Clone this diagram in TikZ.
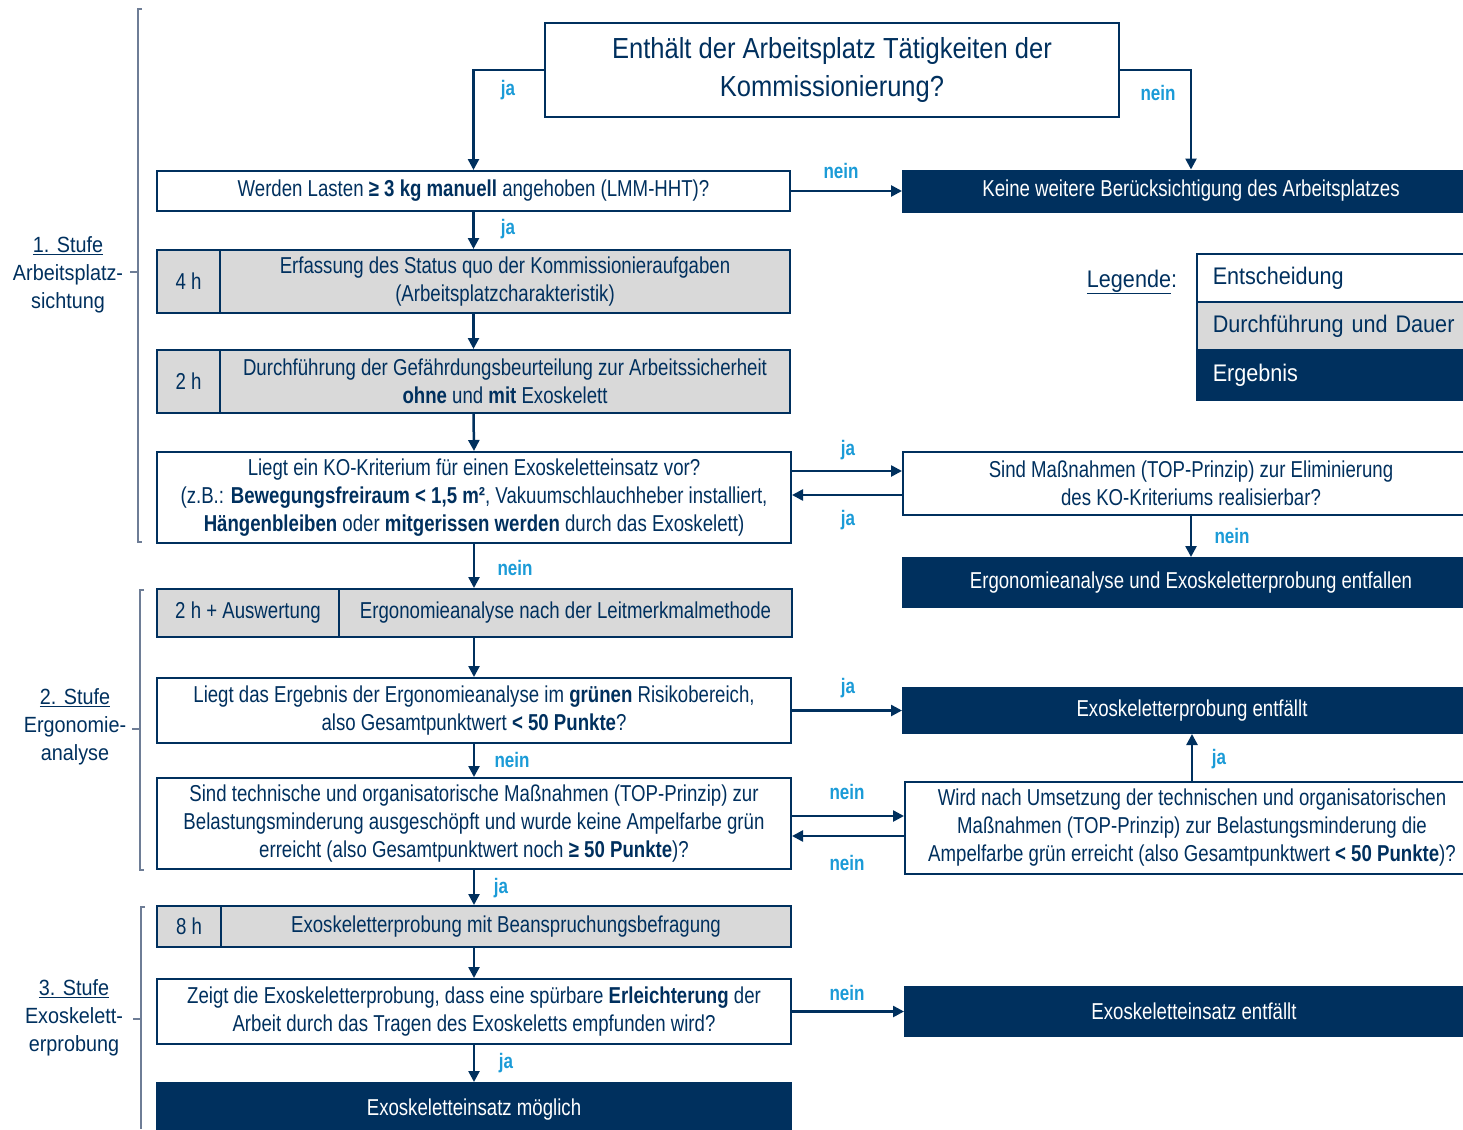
\documentclass[tikz,border=0pt]{standalone}
\usepackage{fontspec}
\setmainfont{Liberation Sans}[FakeStretch=0.9]
\newfontfamily\condf{Liberation Sans}[FakeStretch=0.81]
\newfontfamily\titlef{Liberation Sans}[FakeStretch=0.88]
\usetikzlibrary{arrows.meta}
\definecolor{navy}{RGB}{0,48,94}
\definecolor{lblue}{RGB}{27,155,215}
\definecolor{gfill}{RGB}{217,217,217}
\definecolor{brk}{RGB}{110,125,150}
\tikzset{
 base/.style={draw=navy, line width=2pt, text=navy, inner sep=0pt, align=center, font=\condf\fontsize{23}{28}\selectfont},
 dec/.style={base, fill=white},
 proc/.style={base, fill=gfill},
 res/.style={base, fill=navy, text=white},
 lab/.style={text=lblue, font=\condf\bfseries\fontsize{21}{24}\selectfont, inner sep=0pt},
 arr/.style={draw=navy, line width=2.5pt, -{Triangle[length=11pt,width=11pt]}},
 stage/.style={text=navy, align=center, inner sep=0pt, font=\fontsize{22}{28}\selectfont},
 legbox/.style={draw=navy, line width=1.5pt, anchor=west, minimum width=280, minimum height=48, text width=248, inner xsep=16, inner ysep=0pt, align=left, font=\fontsize{24}{28}\selectfont},
 brkline/.style={draw=brk, line width=1.2pt},
}
\begin{document}
\begin{tikzpicture}[x=1pt,y=-1pt]
\useasboundingbox (0,0) rectangle (1463,1129);
% stage brackets
\draw[brkline] (142,9) -- (138,9) -- (138,542) -- (142,542) (138,272) -- (130,272);
\draw[brkline] (144,590) -- (140,590) -- (140,870) -- (144,870) (140,729) -- (132,729);
\draw[brkline] (145,907) -- (141,907) -- (141,1129) (141,1019) -- (133,1019);
\node[stage] (s1) at (68,275) {\underline{1. Stufe}\\Arbeitsplatz-\\sichtung};
\node[stage] (s2) at (75,727) {\underline{2. Stufe}\\Ergonomie-\\analyse};
\node[stage] (s3) at (74,1018) {\underline{3. Stufe}\\Exoskelett-\\erprobung};
% legend
\node[font=\fontsize{24}{28}\selectfont, text=navy, inner sep=0pt] (leg) at (1132,282) {\underline{Legende}:};
\node[legbox, fill=white, text=navy] (l1) at (1196,278) {Entscheidung};
\node[legbox, fill=gfill, text=navy] (l2) at (1196,326) {Durchführung und Dauer};
\node[legbox, fill=navy, text=white, minimum height=50] (l3) at (1196,375) {Ergebnis};
% nodes
\node[dec, font=\titlef\fontsize{29}{38}\selectfont, minimum width=574, minimum height=94] (t) at (832,70) {Enthält der Arbeitsplatz Tätigkeiten der\\Kommissionierung?};
\node[dec, minimum width=633, minimum height=40] (q1) at (473.5,191) {Werden Lasten \textbf{≥ 3 kg manuell} angehoben (LMM-HHT)?};
\node[res, minimum width=576, minimum height=41] (r1) at (1191,191) {Keine weitere Berücksichtigung des Arbeitsplatzes};
\node[proc, minimum width=63, minimum height=63] (p1a) at (188.5,281.5) {4 h};
\node[proc, minimum width=570, minimum height=63] (p1b) at (505,281.5) {Erfassung des Status quo der Kommissionieraufgaben\\(Arbeitsplatzcharakteristik)};
\node[proc, minimum width=63, minimum height=63] (p2a) at (188.5,381.5) {2 h};
\node[proc, minimum width=570, minimum height=63] (p2b) at (505,381.5) {Durchführung der Gefährdungsbeurteilung zur Arbeitssicherheit\\\textbf{ohne} und \textbf{mit} Exoskelett};
\node[dec, minimum width=634, minimum height=91] (q2) at (474,497.5) {Liegt ein KO-Kriterium für einen Exoskeletteinsatz vor?\\(z.B.: \textbf{Bewegungsfreiraum < 1,5 m²}, Vakuumschlauchheber installiert,\\\textbf{Hängenbleiben} oder \textbf{mitgerissen werden} durch das Exoskelett)};
\node[dec, minimum width=576, minimum height=63] (q3) at (1191,483.5) {Sind Maßnahmen (TOP-Prinzip) zur Eliminierung\\des KO-Kriteriums realisierbar?};
\node[res, minimum width=576, minimum height=49] (r2) at (1191,582.5) {Ergonomieanalyse und Exoskeletterprobung entfallen};
\node[proc, minimum width=182, minimum height=48] (p3a) at (248,613) {2 h + Auswertung};
\node[proc, minimum width=453, minimum height=48] (p3b) at (565.5,613) {Ergonomieanalyse nach der Leitmerkmalmethode};
\node[dec, minimum width=634, minimum height=65] (q4) at (474,710.5) {Liegt das Ergebnis der Ergonomieanalyse im \textbf{grünen} Risikobereich,\\also Gesamtpunktwert \textbf{< 50 Punkte}?};
\node[res, minimum width=578, minimum height=45] (r3) at (1192,710.5) {Exoskeletterprobung entfällt};
\node[dec, minimum width=634, minimum height=91] (q5) at (474,823.5) {Sind technische und organisatorische Maßnahmen (TOP-Prinzip) zur\\Belastungsminderung ausgeschöpft und wurde keine Ampelfarbe grün\\erreicht (also Gesamtpunktwert noch \textbf{≥ 50 Punkte})?};
\node[dec, minimum width=574, minimum height=92] (q6) at (1192,828) {Wird nach Umsetzung der technischen und organisatorischen\\Maßnahmen (TOP-Prinzip) zur Belastungsminderung die\\Ampelfarbe grün erreicht (also Gesamtpunktwert \textbf{< 50 Punkte})?};
\node[proc, minimum width=64, minimum height=41] (p4a) at (189,926.5) {8 h};
\node[proc, minimum width=570, minimum height=41] (p4b) at (506,926.5) {Exoskeletterprobung mit Beanspruchungsbefragung};
\node[dec, minimum width=634, minimum height=65] (q7) at (474,1011.5) {Zeigt die Exoskeletterprobung, dass eine spürbare \textbf{Erleichterung} der\\Arbeit durch das Tragen des Exoskeletts empfunden wird?};
\node[res, minimum width=578, minimum height=49] (r4) at (1194,1011.5) {Exoskeletteinsatz entfällt};
\node[res, minimum width=634, minimum height=54] (r5) at (474,1110) {Exoskeletteinsatz möglich};
% connectors
\draw[arr] (t.west) -| (q1.north);
\draw[arr] (t.east) -| (r1.north);
\draw[arr] (q1.east) -- (r1.west);
\draw[arr] (q1.south) -- (q1.south |- p1b.north);
\draw[arr] (q1.south |- p1b.south) -- (q1.south |- p2b.north);
\draw[arr] (q1.south |- p2b.south) -- (q2.north);
\draw[arr] (q2.east |- 0,471) -- (q3.west |- 0,471);
\draw[arr] (q3.west |- 0,495) -- (q2.east |- 0,495);
\draw[arr] (q3.south) -- (r2.north);
\draw[arr] (q2.south) -- (q2.south |- p3b.north);
\draw[arr] (q2.south |- p3b.south) -- (q4.north);
\draw[arr] (q4.east) -- (r3.west);
\draw[arr] (q4.south) -- (q5.north);
\draw[arr] (q5.east |- 0,816) -- (q6.west |- 0,816);
\draw[arr] (q6.west |- 0,836) -- (q5.east |- 0,836);
\draw[arr] (q6.north) -- (q6.north |- r3.south);
\draw[arr] (q5.south) -- (q5.south |- p4b.north);
\draw[arr] (q5.south |- p4b.south) -- (q7.north);
\draw[arr] (q7.east) -- (r4.west);
\draw[arr] (q7.south) -- (r5.north);
% labels
\node[lab] (a1) at (508,90) {ja};
\node[lab] (a2) at (1158,93) {nein};
\node[lab] (a3) at (841,171) {nein};
\node[lab] (a4) at (508,229) {ja};
\node[lab] (a5) at (848,450) {ja};
\node[lab] (a6) at (848,520) {ja};
\node[lab] (a7) at (1232,536) {nein};
\node[lab] (a8) at (515,568) {nein};
\node[lab] (a9) at (848,688) {ja};
\node[lab] (a10) at (512,760) {nein};
\node[lab] (a11) at (1219,759) {ja};
\node[lab] (a12) at (847,792) {nein};
\node[lab] (a13) at (847,863) {nein};
\node[lab] (a14) at (501,888) {ja};
\node[lab] (a15) at (847,993) {nein};
\node[lab] (a16) at (506,1063) {ja};
\end{tikzpicture}
\end{document}
